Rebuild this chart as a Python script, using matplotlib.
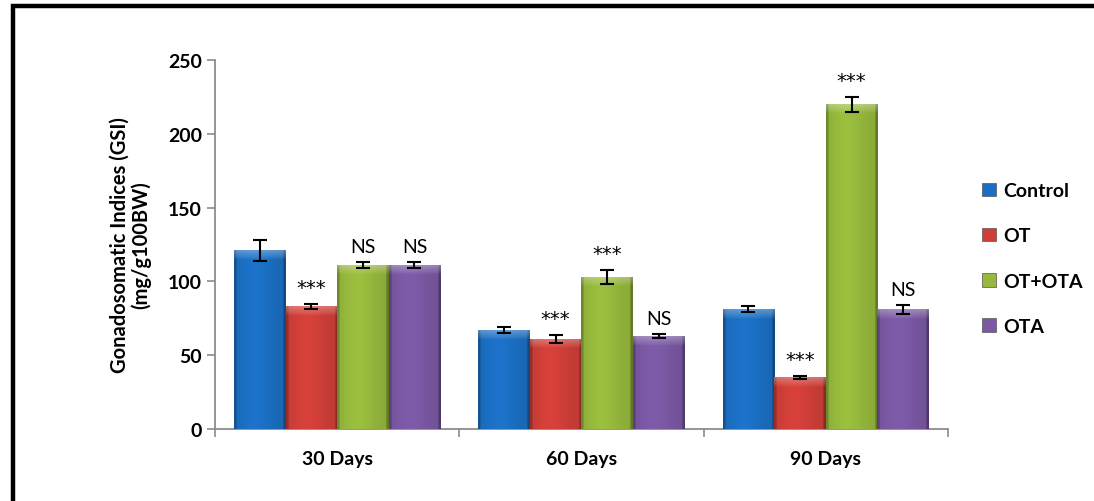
import numpy as np
import matplotlib.pyplot as plt
from matplotlib.colors import to_rgb
from matplotlib.patches import Patch, Rectangle

plt.rcParams['font.family'] = ['Lato', 'DejaVu Sans']

periods = ['30 Days', '60 Days', '90 Days']
groups = ['Control', 'OT', 'OT+OTA', 'OTA']
gsi = {
    'Control': [121, 67, 81],
    'OT': [83, 61, 35],
    'OT+OTA': [111, 103, 220],
    'OTA': [111, 63, 81],
}
gsi_err = {
    'Control': [7, 2, 2],
    'OT': [2, 3, 1],
    'OT+OTA': [2, 5, 5],
    'OTA': [2, 1.5, 3],
}
marks = {
    'Control': ['', '', ''],
    'OT': ['***', '***', '***'],
    'OT+OTA': ['NS', '***', '***'],
    'OTA': ['NS', 'NS', 'NS'],
}
colors = ['#1b6fc2', '#cf3f38', '#96b83c', '#7a58a3']


def shaded(base, nx=60, ny=300, top_frac=0.05):
    # horizontal bevel: darker edges, lighter left-centre; soft light cap on top
    c = np.array(to_rgb(base))
    x = np.linspace(0, 1, nx)
    prof = 0.92 + 0.12 * np.exp(-((x - 0.4) / 0.35) ** 2)
    prof[x < 0.05] = 0.74
    prof[x > 0.95] = 0.66
    img = np.ones((ny, nx, 3)) * c
    img = img * prof[None, :, None]
    ntop = max(1, int(round(ny * top_frac)))
    fade = np.linspace(0.3, 0.05, ntop)[:, None, None]
    img[:ntop] = img[:ntop] * (1 - fade) + fade
    return np.clip(img, 0, 1)


fig = plt.figure(figsize=(10.94, 5.02), dpi=100)
ax = fig.add_axes([0.1965, 0.1434, 0.67, 0.7351])

w = 0.211
xs = np.arange(len(periods))
px_per_unit = 369 / 250.0
for i, g in enumerate(groups):
    pos = xs + (i - 1.5) * w
    bars = ax.bar(pos, gsi[g], width=w, color=colors[i], label=g, zorder=2)
    for b, v in zip(bars, gsi[g]):
        top_frac = min(0.5, 9.0 / (v * px_per_unit))
        im = ax.imshow(shaded(colors[i], top_frac=top_frac), aspect='auto',
                       extent=[b.get_x(), b.get_x() + w, 0, v],
                       origin='upper', zorder=3, interpolation='bilinear')
        im.set_clip_path(b)
    ax.errorbar(pos, gsi[g], yerr=gsi_err[g], fmt='none', ecolor='black',
                elinewidth=1.5, capsize=5, capthick=1.5, zorder=4)
    for x, v, e, m in zip(pos, gsi[g], gsi_err[g], marks[g]):
        if not m:
            continue
        ax.annotate(m, (x, v + e), xytext=(0, 5), textcoords='offset points',
                    ha='center', va='bottom', fontsize=14, zorder=5,
                    family=['DejaVu Sans'] if m == '***' else None)

ax.set_xlim(-0.5, 2.5)
ax.set_ylim(0, 250)
ax.set_yticks(range(0, 251, 50))
ax.set_xticks(xs)
ax.set_xticklabels(periods, fontweight='bold', fontsize=14)
ax.set_xticks([-0.5, 0.5, 1.5, 2.5], minor=True)
ax.tick_params(axis='x', which='major', length=0, pad=15)
ax.tick_params(axis='x', which='minor', length=6, color='#8c8c8c', width=1.2)
ax.tick_params(axis='y', length=6, color='#8c8c8c', width=1.2, labelsize=14)
for t in ax.get_yticklabels():
    t.set_fontweight('bold')
for s in ['top', 'right']:
    ax.spines[s].set_visible(False)
for s in ['left', 'bottom']:
    ax.spines[s].set_color('#8c8c8c')
    ax.spines[s].set_linewidth(1.3)

ax.set_ylabel('Gonadosomatic Indices (GSI)\n(mg/g100BW)', fontweight='bold',
              fontsize=14.5, labelpad=12, linespacing=1.05)

handles = [Patch(facecolor=c, edgecolor='#555555', linewidth=0.5) for c in colors]
leg = fig.legend(handles, groups, loc='center left', bbox_to_anchor=(0.882, 0.483),
                 frameon=False, prop={'weight': 'bold', 'size': 14},
                 handlelength=0.7, handleheight=0.7, handletextpad=0.35,
                 labelspacing=1.45)

# page frame
fig.patches.append(Rectangle((0.0115, -0.2), 1.2, 1.1864, transform=fig.transFigure,
                             fill=False, edgecolor='black', linewidth=3.2))

fig.savefig('out.png', dpi=100)
